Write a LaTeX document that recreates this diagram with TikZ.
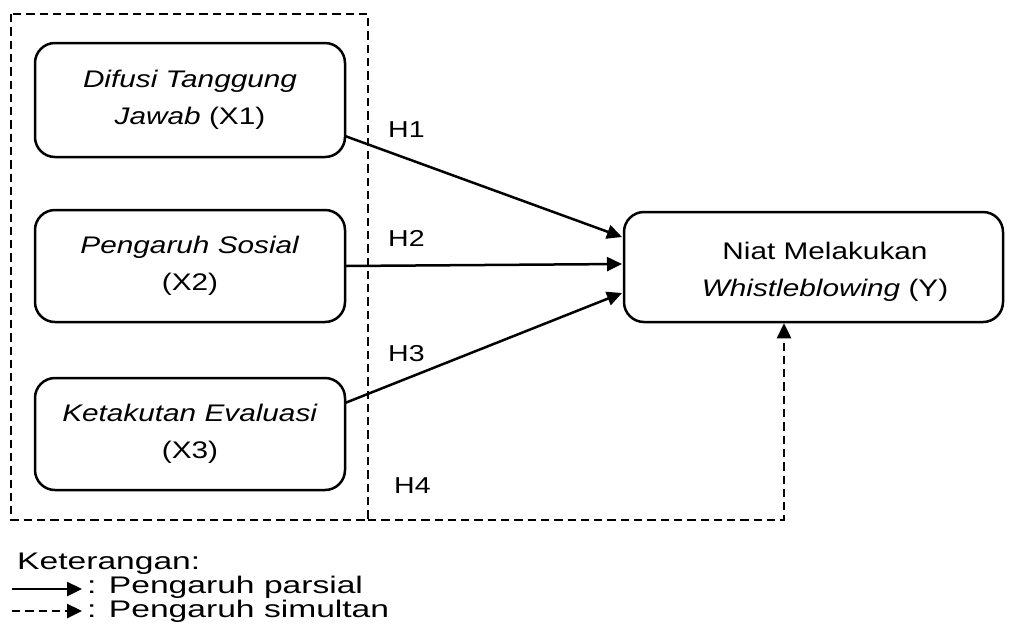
\documentclass[tikz,border=0pt]{standalone}
\usepackage{fontspec}
\setmainfont{Liberation Sans}[FakeStretch=1.24]
\newfontfamily\legendfont{Liberation Sans}[FakeStretch=1.4]
\usetikzlibrary{arrows.meta}
\begin{document}
\begin{tikzpicture}[x=1pt,y=-1pt,font=\fontsize{24}{37}\selectfont,
  box/.style={draw,line width=2.5pt,rounded corners=20pt,align=center,inner sep=0pt},
  conn/.style={line width=2.5pt,-{Triangle[length=15pt,width=14pt]}},
  dsh/.style={line width=2.6pt,dash pattern=on 8.3pt off 5pt},
  lbl/.style={inner sep=0pt,font=\fontsize{23}{25}\selectfont},
  leg/.style={inner sep=0pt,anchor=base west,font=\legendfont\fontsize{24}{26}\selectfont}]
\useasboundingbox (0,0) rectangle (1016,641);
\node[box,minimum width=310pt,minimum height=114pt] (x1) at (190,100) {\textit{Difusi Tanggung}\\\textit{Jawab} (X1)};
\node[box,minimum width=310pt,minimum height=112pt] (x2) at (190,266) {\textit{Pengaruh Sosial}\\(X2)};
\node[box,minimum width=310pt,minimum height=112pt] (x3) at (190,434) {\textit{Ketakutan Evaluasi}\\(X3)};
\node[box,minimum width=379pt,minimum height=110pt] (y) at (813.5,267) {};
\node[align=center,inner sep=0pt] (yt) at (825,272) {Niat Melakukan\\\textit{Whistleblowing} (Y)};
% dashed group
\draw[dsh] (11,14) rectangle (368,520);
\coordinate (d0) at (368,520);
\coordinate (d1) at (784,520);
\draw[dsh,conn] (d0) -- (d1) -- (d1 |- y.south);
% partial arrows
\coordinate (s1) at (345,136);
\coordinate (e1) at (622,237);
\coordinate (s2) at (345,266);
\coordinate (e2) at (622,264);
\coordinate (s3) at (345,403);
\coordinate (e3) at (622,293);
\draw[conn] (s1) -- (e1);
\draw[conn] (s2) -- (e2);
\draw[conn] (s3) -- (e3);
\node[lbl,anchor=base west] (h1) at (388,137) {H1};
\node[lbl,anchor=base west] (h2) at (388,246) {H2};
\node[lbl,anchor=base west] (h3) at (388,361) {H3};
\node[lbl,anchor=base west] (h4) at (394,493) {H4};
% legend
\node[leg] (ket) at (17,569) {Keterangan:};
\coordinate (l1a) at (12,589);
\coordinate (l1b) at (82,589);
\coordinate (l2a) at (12,611);
\coordinate (l2b) at (82,611);
\draw[conn] (l1a) -- (l1b);
\draw[dsh,conn] (l2a) -- (l2b);
\node[leg] (p) at (87,593) {: Pengaruh parsial};
\node[leg] (s) at (87,617) {: Pengaruh simultan};
\end{tikzpicture}
\end{document}
